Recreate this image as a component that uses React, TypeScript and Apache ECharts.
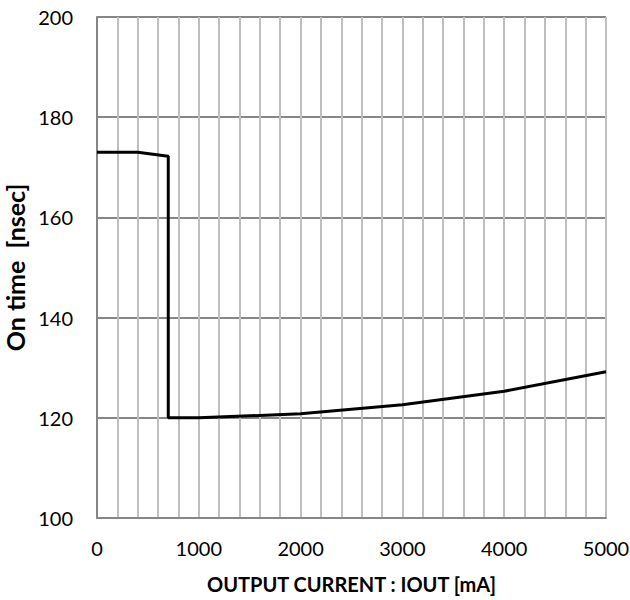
import React, { useEffect, useRef } from "react";
import * as echarts from "echarts";

const currentMA = [0, 400, 700, 700, 1000, 2000, 3000, 4000, 5000];
const onTimeNs = [173, 173, 172.2, 120, 120, 120.8, 122.6, 125.3, 129.2];
const xTicks = [0, 1000, 2000, 3000, 4000, 5000];
const yTicks = [100, 120, 140, 160, 180, 200];

export default function App() {
  const ref = useRef<HTMLDivElement>(null);
  useEffect(() => {
    if (!ref.current) return;
    const chart = echarts.init(ref.current, null, { renderer: "svg" });
    const font = "Lato, 'Open Sans', sans-serif";
    chart.setOption({
      animation: false,
      grid: {
        left: 97,
        right: 24,
        top: 17,
        bottom: 82,
        show: false,
        containLabel: false,
        outerBoundsMode: "none",
      },
      xAxis: {
        type: "value",
        min: xTicks[0],
        max: xTicks[xTicks.length - 1],
        interval: 1000,
        name: "OUTPUT CURRENT : IOUT [mA]",
        nameLocation: "middle",
        nameGap: 56,
        nameTextStyle: { fontFamily: font, fontSize: 20, fontWeight: "bold", color: "#000" },
        axisLine: { show: true, lineStyle: { color: "#868686", width: 2 } },
        axisTick: { show: false },
        axisLabel: {
          fontFamily: font,
          fontSize: 20,
          color: "#000",
          margin: 20,
          formatter: (v: number) => String(v),
        },
        splitLine: { show: true, lineStyle: { color: "#bfbfbf", width: 2 } },
        minorTick: { show: false, splitNumber: 5 },
        minorSplitLine: { show: true, lineStyle: { color: "#bfbfbf", width: 2 } },
      },
      yAxis: {
        type: "value",
        min: yTicks[0],
        max: yTicks[yTicks.length - 1],
        interval: 20,
        name: "On time  [nsec]",
        nameLocation: "middle",
        nameGap: 64,
        nameTextStyle: { fontFamily: font, fontSize: 25, fontWeight: "bold", color: "#000" },
        axisLine: { show: true, lineStyle: { color: "#868686", width: 2 } },
        axisTick: { show: false },
        axisLabel: {
          fontFamily: font,
          fontSize: 20,
          color: "#000",
          margin: 24,
          formatter: (v: number) => String(v),
        },
        splitLine: { show: true, lineStyle: { color: "#868686", width: 2 } },
      },
      series: [
        {
          type: "line",
          data: currentMA.map((x, i) => [x, onTimeNs[i]]),
          showSymbol: false,
          symbol: "none",
          lineStyle: { color: "#000", width: 3 },
          smooth: false,
        },
      ],
    });
    return () => chart.dispose();
  }, []);
  return <div ref={ref} style={{ width: 630, height: 600, position: "absolute", left: 0, top: 0 }} />;
}
